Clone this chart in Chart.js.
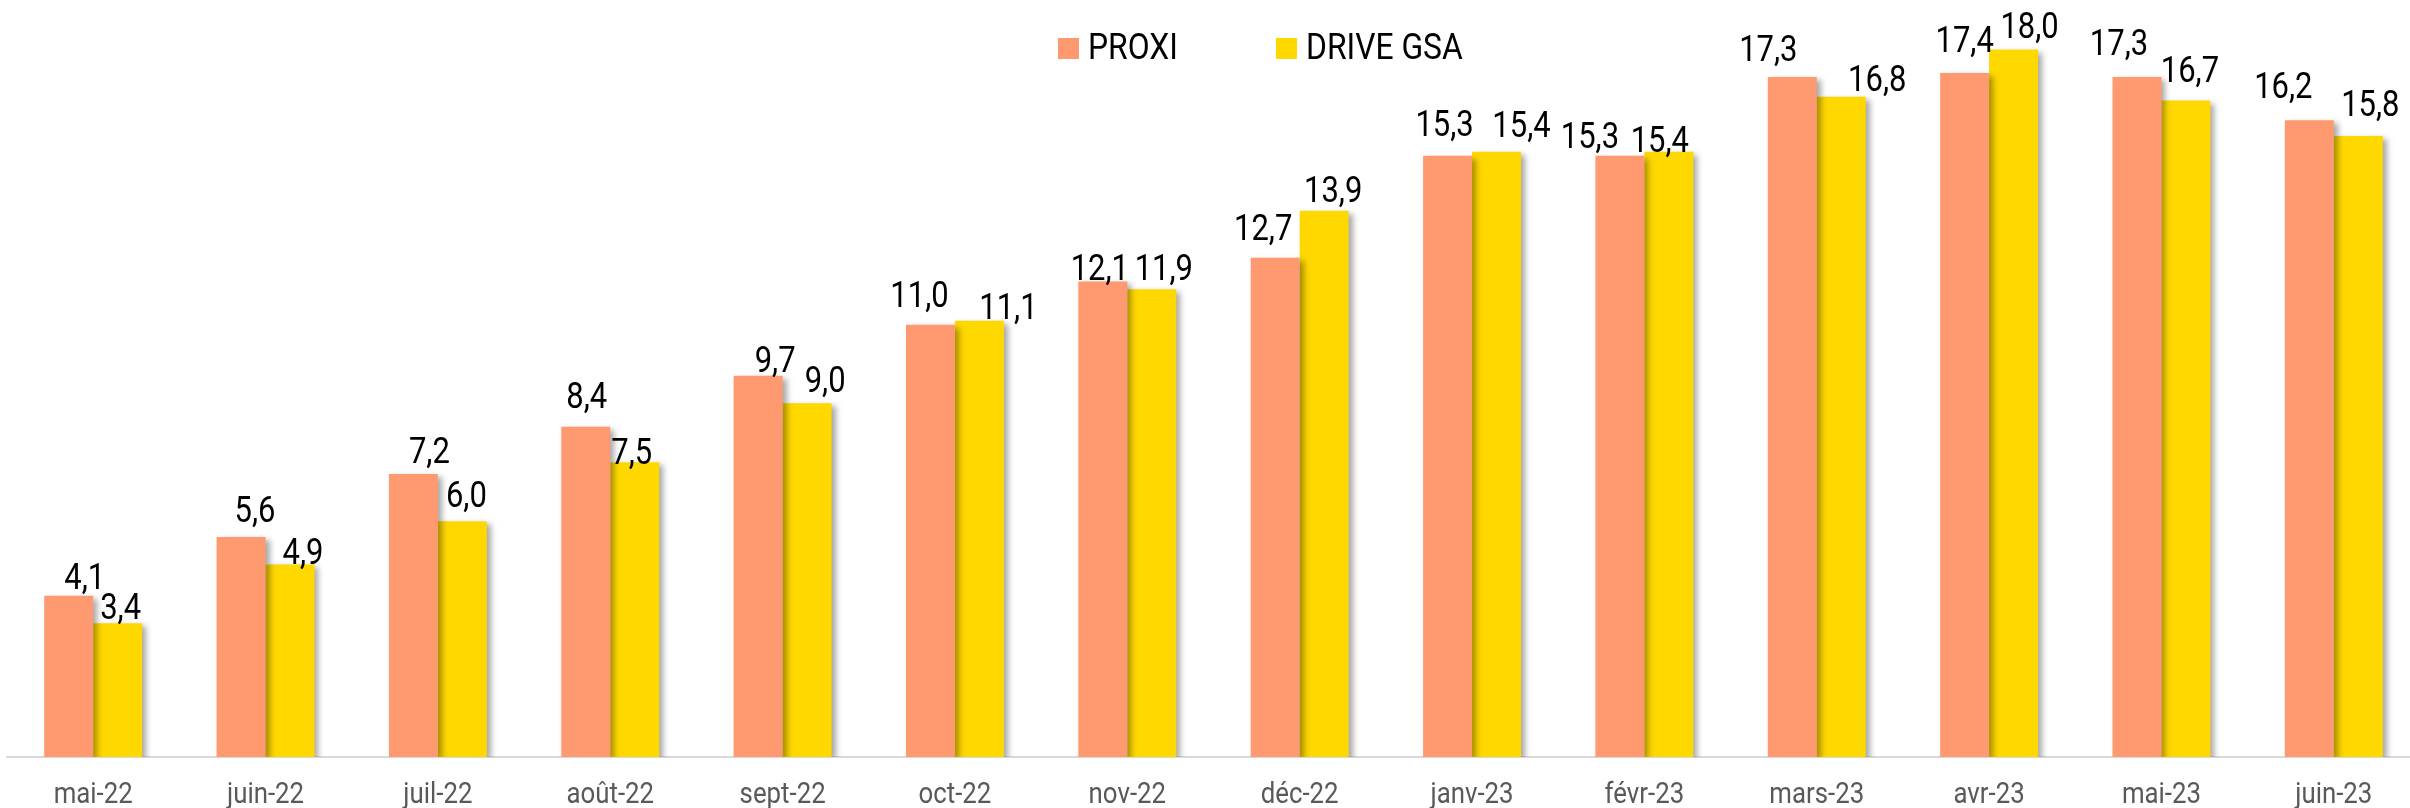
<!DOCTYPE html>
<html>
<head>
<meta charset="utf-8">
<script src="https://cdn.jsdelivr.net/npm/chart.js@4.4.1/dist/chart.umd.min.js"></script>
<style>
  html, body { margin: 0; padding: 0; background: #fff; overflow: hidden; }
  canvas { display: block; }
</style>
</head>
<body>
<canvas id="chart" width="2420" height="808"></canvas>
<script>
const months = ["mai-22", "juin-22", "juil-22", "août-22", "sept-22", "oct-22", "nov-22",
                "déc-22", "janv-23", "févr-23", "mars-23", "avr-23", "mai-23", "juin-23"];
const proxi = [4.1, 5.6, 7.2, 8.4, 9.7, 11.0, 12.1, 12.7, 15.3, 15.3, 17.3, 17.4, 17.3, 16.2];
const driveGsa = [3.4, 4.9, 6.0, 7.5, 9.0, 11.1, 11.9, 13.9, 15.4, 15.4, 16.8, 18.0, 16.7, 15.8];

// label nudges (px) relative to bar top centre, as placed by hand in the original
const proxiLabelDx = [16, 14, 16, 1, 17, -11, -3, -12, -3, -30, -24, 0, -18, -26];
const proxiLabelGap = [7, 15, 11, 19, 4, 18, 1, 18, 20, 8, 16, 21, 22, 22];
const driveLabelDx = [3, 13, 4, -3, 18, 29, 12, 9, 25, -9, 36, 16, 4, 12];
const driveLabelGap = [4, 0, 14, -2, 11, 2, 9, 9, 15, 0, 6, 12, 19, 20];

const FONT = "Roboto, sans-serif";
const SQUEEZE = 0.86; // no condensed face installed, so narrow Roboto by hand
const colors = ["#FF9A70", "#FFD800"];

function narrowText(c, txt, x, y, align) {
    c.save();
    c.translate(x, y);
    c.scale(SQUEEZE, 1);
    c.textAlign = align;
    c.fillText(txt, 0, 0);
    c.restore();
}

// soft drop shadow on the bars
const barShadow = {
    id: "barShadow",
    beforeDatasetDraw(chart) {
        const c = chart.ctx;
        c.save();
        c.shadowColor = "rgba(0,0,0,0.35)";
        c.shadowBlur = 6;
        c.shadowOffsetX = 4;
        c.shadowOffsetY = 3;
    },
    afterDatasetDraw(chart) {
        chart.ctx.restore();
    }
};

const valueLabels = {
    id: "valueLabels",
    afterDatasetsDraw(chart) {
        const c = chart.ctx;
        const dxs = [proxiLabelDx, driveLabelDx];
        const gaps = [proxiLabelGap, driveLabelGap];
        c.save();
        c.font = "36px " + FONT;
        c.fillStyle = "#000";
        c.textBaseline = "alphabetic";
        chart.data.datasets.forEach((ds, d) => {
            chart.getDatasetMeta(d).data.forEach((bar, i) => {
                const txt = ds.data[i].toFixed(1).replace(".", ",");
                narrowText(c, txt, bar.x + dxs[d][i], bar.y - gaps[d][i], "center");
            });
        });
        c.restore();
    }
};

const monthLabels = {
    id: "monthLabels",
    afterDraw(chart) {
        const c = chart.ctx;
        const xs = chart.scales.x;
        c.save();
        c.font = "30px " + FONT;
        c.fillStyle = "#595959";
        c.textBaseline = "alphabetic";
        months.forEach((m, i) => {
            narrowText(c, m, xs.getPixelForTick(i), xs.bottom - 5, "center");
        });
        c.restore();
    }
};

const topLegend = {
    id: "topLegend",
    afterDraw(chart) {
        const c = chart.ctx;
        const items = [
            { text: "PROXI", x: 1058 },
            { text: "DRIVE GSA", x: 1276 }
        ];
        c.save();
        c.font = "37px " + FONT;
        c.textBaseline = "alphabetic";
        items.forEach((it, i) => {
            c.fillStyle = colors[i];
            c.fillRect(it.x, 38, 21, 21);
            c.fillStyle = "#000";
            narrowText(c, it.text, it.x + 30, 59, "left");
        });
        c.restore();
    }
};

const ctx = document.getElementById("chart").getContext("2d");
new Chart(ctx, {
    type: "bar",
    data: {
        labels: months,
        datasets: [
            { label: "PROXI", data: proxi, backgroundColor: colors[0] },
            { label: "DRIVE GSA", data: driveGsa, backgroundColor: colors[1] }
        ]
    },
    options: {
        responsive: false,
        animation: false,
        layout: { padding: { left: 7, right: 0, top: 0, bottom: 0 } },
        datasets: {
            bar: { categoryPercentage: 0.568, barPercentage: 1.0 }
        },
        plugins: {
            legend: { display: false },
            tooltip: { enabled: false }
        },
        scales: {
            x: {
                grid: { display: false },
                border: { display: true, color: "#d9d9d9", width: 2 },
                ticks: { display: false, autoSkip: false },
                afterFit(scale) { scale.height = 51; }
            },
            y: {
                display: false,
                min: 0,
                max: 19.26
            }
        }
    },
    plugins: [barShadow, valueLabels, monthLabels, topLegend]
});
</script>
</body>
</html>
